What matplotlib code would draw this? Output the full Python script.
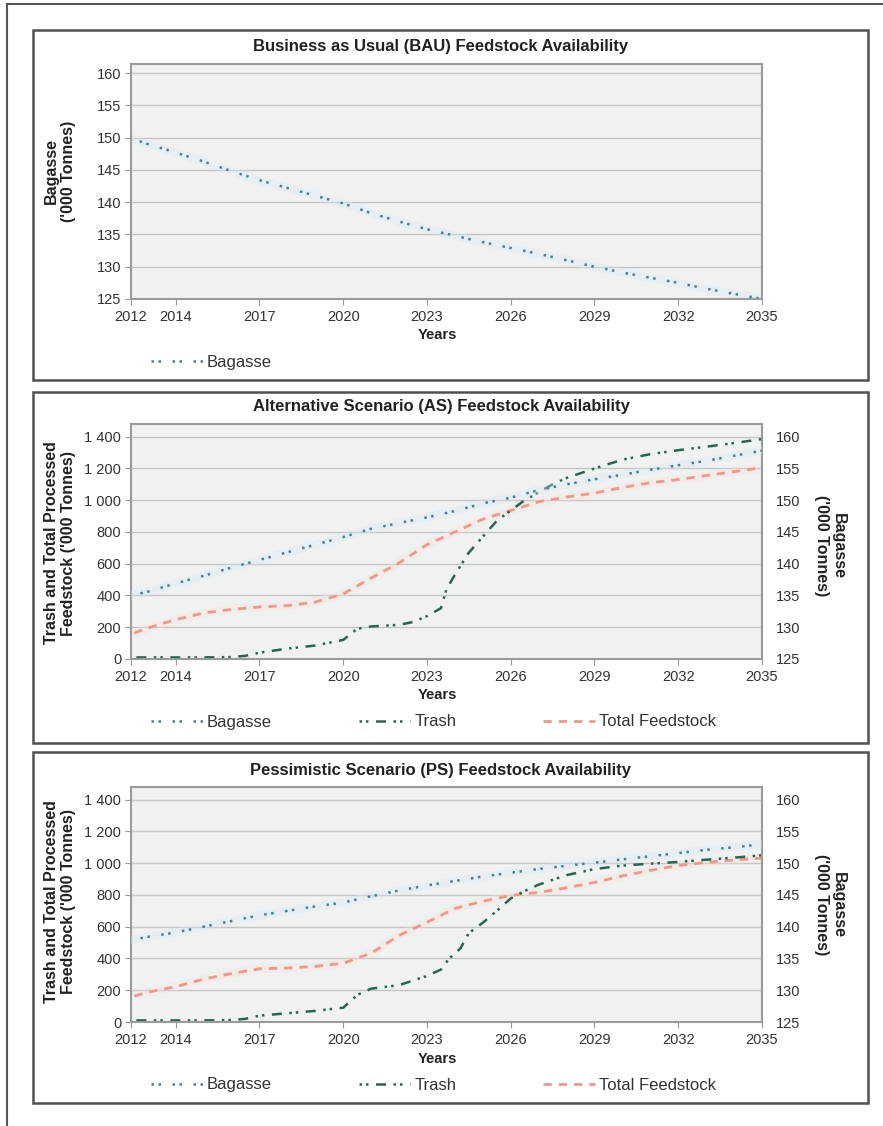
import matplotlib
matplotlib.use("Agg")
import matplotlib.pyplot as plt
from matplotlib.patches import Rectangle
from matplotlib.lines import Line2D
from matplotlib.ticker import FuncFormatter

plt.rcParams['font.family'] = ['Liberation Sans', 'DejaVu Sans']

# ---- data ----
years = list(range(2012, 2036))
tick_years = [2014, 2017, 2020, 2023, 2026, 2029, 2032, 2035]
tick_labels = ['2012', '2014', '2017', '2020', '2023', '2026', '2029', '2032', '2035']

bau_bagasse = [150.5, 149.0, 147.7, 146.3, 144.8, 143.4, 142.2, 141.0, 139.8, 138.3,
               137.0, 135.8, 134.8, 133.8, 132.9, 132.0, 131.0, 130.0, 129.1, 128.3,
               127.5, 126.6, 125.8, 125.0]

as_bagasse = [134.6, 135.6, 136.9, 138.1, 139.4, 140.6, 141.8, 143.0, 144.2, 145.5,
              146.4, 147.3, 148.3, 149.5, 150.4, 151.6, 152.5, 153.3, 154.0, 154.8,
              155.5, 156.2, 157.0, 157.8]
as_total = [130, 195, 248, 290, 312, 328, 336, 358, 410, 510, 605, 720, 800, 880,
            935, 990, 1020, 1045, 1080, 1110, 1130, 1155, 1180, 1205]
as_trash_years = [2012, 2013, 2014, 2015, 2016, 2016.5, 2017, 2018, 2019, 2020, 2020.5,
                  2021, 2022, 2022.5, 2023, 2023.5, 2023.7, 2024, 2024.5, 2025, 2025.5,
                  2026, 2026.5, 2027, 2027.5, 2028, 2029, 2030, 2031, 2032, 2033, 2034, 2035]
as_trash = [10, 10, 10, 10, 12, 20, 40, 65, 85, 120, 190, 205, 215, 233, 270, 320, 440, 530,
            670, 770, 870, 935, 1000, 1050, 1100, 1140, 1200, 1255, 1290, 1315, 1337,
            1360, 1385]

ps_bagasse = [137.6, 138.4, 139.1, 140.0, 140.9, 141.8, 142.5, 143.2, 143.8, 144.8,
              145.7, 146.5, 147.2, 147.9, 148.5, 149.1, 149.6, 150.1, 150.6, 151.1,
              151.6, 152.1, 152.5, 153.0]
ps_total = [135, 188, 222, 270, 305, 335, 340, 350, 370, 433, 545, 628, 715, 760, 797,
            816, 845, 879, 920, 955, 985, 1005, 1020, 1032]
ps_trash_years = [2012, 2013, 2014, 2015, 2016, 2016.5, 2017, 2018, 2019, 2020, 2020.5,
                  2021, 2022, 2023, 2023.5, 2023.8, 2024.2, 2024.5, 2025, 2025.5, 2026,
                  2026.5, 2027, 2028, 2029, 2030, 2031, 2032, 2033, 2034, 2035]
ps_trash = [10, 10, 10, 10, 12, 20, 40, 55, 70, 90, 170, 210, 232, 290, 330, 400, 464, 560,
            625, 700, 778, 825, 865, 925, 963, 985, 997, 1008, 1022, 1035, 1050]

# ---- styles ----
W, H = 883, 1126
c_bag, c_trash, c_total = '#4a8090', '#2a6354', '#e89a8c'
h_bag, h_total = '#d6eaf2', '#f7e0da'
ls_bag = (0, (1, 1.8, 1, 4.6))
ls_trash = (0, (1, 1.6, 1, 3, 4, 3))
ls_total = (0, (3, 2.5))
txt = '#333333'


def fx(px):
    return px / W


def fy(py):
    return 1 - py / H


def thousands(v, pos):
    return f"{int(v):,}".replace(',', ' ')


fig = plt.figure(figsize=(W / 100, H / 100), dpi=100)

# outer frame and panel boxes
fig.add_artist(Line2D([fx(7), fx(7)], [0, fy(4)], color='#555555', lw=1.5))
fig.add_artist(Line2D([fx(7), 1], [fy(4), fy(4)], color='#555555', lw=1.5))
for top, bot in [(30, 380), (392, 743), (752, 1103)]:
    fig.add_artist(Rectangle((fx(33), fy(bot)), fx(868) - fx(33), fy(top) - fy(bot),
                             fill=False, edgecolor='#505050', lw=1.8))


def style_axes(ax):
    ax.set_facecolor('#f0f1f1')
    for s in ax.spines.values():
        s.set_color('#9a9a9a')
        s.set_linewidth(1.5)
    ax.set_xlim(2012.4, 2035)
    ax.set_xticks([2012.4] + tick_years)
    ax.set_xticklabels(tick_labels)
    ax.tick_params(axis='x', direction='out', length=4, color='#999999',
                   labelsize=10.5, labelcolor=txt, pad=4)
    ax.tick_params(axis='y', direction='out', length=4, color='#999999',
                   labelsize=10.5, labelcolor=txt, pad=3)
    ax.grid(axis='y', color='#c4c4c4', lw=1)
    ax.set_axisbelow(True)


def make_panel(top, bot, title, title_y, xlab_y):
    ax = fig.add_axes([fx(131), fy(bot), fx(762) - fx(131), fy(top) - fy(bot)])
    style_axes(ax)
    fig.text(fx(441), fy(title_y), title, ha='center', va='center',
             fontsize=12, fontweight='bold', color='#222222')
    fig.text(fx(437), fy(xlab_y), 'Years', ha='center', va='center',
             fontsize=10.5, fontweight='bold', color='#222222')
    return ax


# ---- panel 1: BAU ----
ax1 = make_panel(64, 299, 'Business as Usual (BAU) Feedstock Availability', 47, 335)
ax1.plot(years, bau_bagasse, color=h_bag, lw=6, alpha=0.35)
l_bag, = ax1.plot(years, bau_bagasse, color=c_bag, lw=1.8, linestyle=ls_bag, label='Bagasse')
ax1.set_ylim(125, 161.4)
ax1.set_yticks(range(125, 161, 5))
fig.text(fx(60), fy(171), "Bagasse\n('000 Tonnes)", rotation=90, ha='center', va='center',
         multialignment='center', fontsize=11.5, fontweight='bold', color='#222222')
ax1.legend(handles=[l_bag], loc='center left', bbox_to_anchor=(fx(151), fy(362)),
           bbox_transform=fig.transFigure, frameon=False, fontsize=12,
           handlelength=3.1, handletextpad=0.25, borderpad=0, borderaxespad=0,
           labelcolor=txt)


def scenario(top, bot, title, title_y, xlab_y, leg_y, lab_y, bag, total, t_years, trash):
    ax = make_panel(top, bot, title, title_y, xlab_y)
    ax.set_ylim(0, 1480)
    ax.set_yticks(range(0, 1401, 200))
    ax.yaxis.set_major_formatter(FuncFormatter(thousands))
    ax.plot(years, total, color=h_total, lw=6, alpha=0.35)
    l_total, = ax.plot(years, total, color=c_total, lw=2, linestyle=ls_total,
                       label='Total Feedstock')
    l_trash, = ax.plot(t_years, trash, color=c_trash, lw=1.8, linestyle=ls_trash,
                       label='Trash')

    axr = ax.twinx()
    axr.set_xlim(2012.4, 2035)
    axr.set_ylim(125, 162)
    axr.set_yticks(range(125, 161, 5))
    for s in axr.spines.values():
        s.set_visible(False)
    axr.tick_params(axis='y', length=0, labelsize=10.5, labelcolor=txt, pad=10)
    axr.plot(years, bag, color=h_bag, lw=6, alpha=0.35)
    l_bag, = axr.plot(years, bag, color=c_bag, lw=1.8, linestyle=ls_bag, label='Bagasse')

    fig.text(fx(60), fy(lab_y), "Trash and Total Processed\nFeedstock ('000 Tonnes)",
             rotation=90, ha='center', va='center', multialignment='center',
             fontsize=11.5, fontweight='bold', color='#222222')
    fig.text(fx(830), fy(lab_y + 3), "Bagasse\n('000 Tonnes)", rotation=270,
             ha='center', va='center', multialignment='center',
             fontsize=11.5, fontweight='bold', color='#222222')
    axr.legend(handles=[l_bag, l_trash, l_total], loc='center left', ncol=3,
               bbox_to_anchor=(fx(151), fy(leg_y)), bbox_transform=fig.transFigure,
               frameon=False, fontsize=12, handlelength=3.1, handletextpad=0.25,
               columnspacing=5.2, borderpad=0, borderaxespad=0, labelcolor=txt)
    return ax


scenario(424, 659, 'Alternative Scenario (AS) Feedstock Availability', 407, 695, 722, 543,
         as_bagasse, as_total, as_trash_years, as_trash)
scenario(787, 1022, 'Pessimistic Scenario (PS) Feedstock Availability', 770, 1059, 1085, 902,
         ps_bagasse, ps_total, ps_trash_years, ps_trash)

fig.savefig('out.png', dpi=100)
